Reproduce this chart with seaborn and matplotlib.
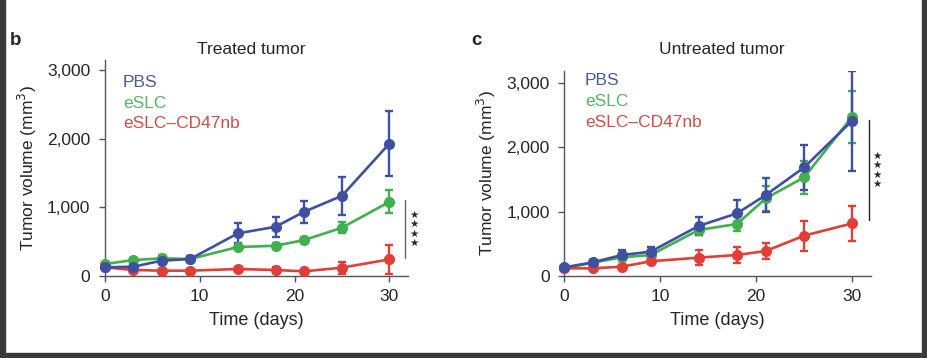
import numpy as np
import pandas as pd
import matplotlib
matplotlib.use('Agg')
import matplotlib.pyplot as plt
import seaborn as sns
from matplotlib.ticker import FuncFormatter
from matplotlib.patches import Rectangle

# Data
days = [0, 3, 6, 9, 14, 18, 21, 25, 30]
groups = ['PBS', 'eSLC', 'eSLC\u2013CD47nb']

treated_pbs = [122, 131, 219, 243, 617, 715, 933, 1167, 1930]
treated_pbs_err = [30, 30, 50, 40, 146, 145, 160, 277, 480]
treated_eslc = [170, 228, 253, 243, 418, 437, 520, 700, 1079]
treated_eslc_err = [30, 30, 45, 35, 50, 45, 40, 78, 170]
treated_cd47 = [122, 83, 73, 73, 97, 83, 63, 117, 238]
treated_cd47_err = [20, 20, 20, 20, 30, 40, 25, 87, 210]

untreated_pbs = [130, 208, 322, 374, 775, 972, 1258, 1690, 2418]
untreated_pbs_err = [30, 40, 80, 80, 145, 210, 270, 350, 780]
untreated_eslc = [114, 203, 286, 322, 712, 806, 1206, 1534, 2480]
untreated_eslc_err = [25, 30, 50, 50, 70, 115, 200, 255, 406]
untreated_cd47 = [114, 114, 140, 224, 281, 322, 385, 624, 816]
untreated_cd47_err = [20, 20, 30, 40, 120, 120, 120, 234, 276]

line_colors = {'PBS': '#3f4fa2', 'eSLC': '#3fb04d', 'eSLC\u2013CD47nb': '#e23d36'}
text_colors = {'PBS': '#4c5a98', 'eSLC': '#57b566', 'eSLC\u2013CD47nb': '#c9504a'}

sns.set_style('ticks')
plt.rcParams['font.family'] = ['Liberation Sans', 'DejaVu Sans']
FS = 12.5

def thousands(x, pos):
    return f'{x:,.0f}'

def make_frame(pbs, eslc, cd47):
    rows = []
    for name, vals in zip(groups, [pbs, eslc, cd47]):
        for d, v in zip(days, vals):
            rows.append({'day': d, 'volume': v, 'group': name})
    return pd.DataFrame(rows)

panels = [
    ('Treated tumor', 'b', make_frame(treated_pbs, treated_eslc, treated_cd47),
     [treated_pbs_err, treated_eslc_err, treated_cd47_err], 3150,
     [0.113, 0.230, 0.327, 0.602], (1104, 262), '#666666',
     [(0.059, 0.895), (0.059, 0.80), (0.059, 0.705)], 0.271),
    ('Untreated tumor', 'c', make_frame(untreated_pbs, untreated_eslc, untreated_cd47),
     [untreated_pbs_err, untreated_eslc_err, untreated_cd47_err], 3200,
     [0.608, 0.230, 0.331, 0.573], (2428, 868), '#222222',
     [(0.067, 0.95), (0.067, 0.85), (0.067, 0.745)], 0.778),
]

fig = plt.figure(figsize=(9.28, 3.58), dpi=100)

for title, letter, df, errs, ytop, rect, sig, sig_color, legend_pos, title_x in panels:
    ax = fig.add_axes(rect)
    # draw order: eSLC, CD47nb, PBS on top
    for name in ['eSLC', 'eSLC\u2013CD47nb', 'PBS']:
        sub = df[df['group'] == name]
        err = errs[groups.index(name)]
        ax.errorbar(sub['day'], sub['volume'], yerr=err, fmt='none',
                    ecolor=line_colors[name], elinewidth=1.7, capsize=3,
                    capthick=1.7, zorder=2)
        sns.lineplot(data=sub, x='day', y='volume', color=line_colors[name],
                     marker='o', markersize=8, markeredgewidth=0,
                     linewidth=1.9, ax=ax, zorder=3, clip_on=False)

    # significance bar and stars
    ax.plot([31.7, 31.7], list(sig), color=sig_color, linewidth=1, clip_on=False)
    ax.text(32.6, np.mean(sig), '\n'.join(['\u2605'] * 4), fontsize=7.5,
            ha='center', va='center', linespacing=0.95,
            family=['DejaVu Sans'])

    for (x, y), name in zip(legend_pos, groups):
        ax.text(x, y, name, color=text_colors[name], fontsize=FS,
                transform=ax.transAxes, va='center', ha='left')

    ax.set_xlim(0, 32)
    ax.set_ylim(0, ytop)
    ax.set_xticks([0, 10, 20, 30])
    ax.set_yticks([0, 1000, 2000, 3000])
    ax.yaxis.set_major_formatter(FuncFormatter(thousands))
    ax.set_xlabel('Time (days)', fontsize=FS + 0.5, labelpad=6)
    ax.set_ylabel('Tumor volume (mm$^3$)', fontsize=FS, labelpad=6)
    ax.tick_params(length=4.5, width=1, color='#555555', labelsize=FS)
    ax.tick_params(axis='x', pad=5)
    ax.tick_params(axis='y', pad=6)
    sns.despine(ax=ax)
    for s in ['left', 'bottom']:
        ax.spines[s].set_color('#555555')
        ax.spines[s].set_linewidth(1)
    fig.text(title_x, 0.863, title, fontsize=FS, ha='center', va='center')

fig.text(0.011, 0.888, 'b', fontsize=13.5, fontweight='bold', va='center')
fig.text(0.508, 0.888, 'c', fontsize=13.5, fontweight='bold', va='center')

# dark screenshot border strips
for r in [(0, 0, 0.005, 1), (0.994, 0, 0.006, 1), (0, 0, 1, 0.014)]:
    fig.patches.append(Rectangle(r[:2], r[2], r[3], transform=fig.transFigure,
                                 color='#3a3a3a', zorder=0))

fig.savefig('out.png', dpi=100)
